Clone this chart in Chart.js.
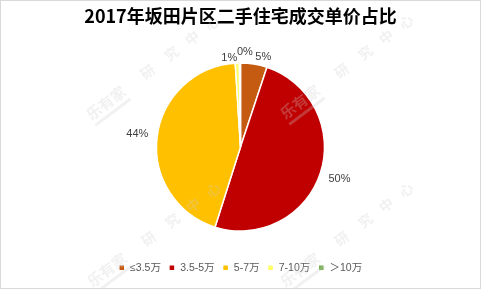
<!DOCTYPE html>
<html>
<head>
<meta charset="utf-8">
<script src="https://cdn.jsdelivr.net/npm/chart.js@4"></script>
<style>
  html, body { margin: 0; padding: 0; background: #fff; }
  #wrap { width: 481px; height: 289px; position: relative; box-sizing: border-box; border: 1px solid #d9d9d9; }
</style>
</head>
<body>
<div id="wrap"><canvas id="pie"></canvas></div>
<script>
// 单价区间占比
const categories = ['≤3.5万', '3.5-5万', '5-7万', '7-10万', '＞10万'];
const shares = [5.1, 49.8, 44.1, 0.8, 0.2];
const shareLabels = ['5%', '50%', '44%', '1%', '0%'];
const colors = ['#C55A11', '#C00000', '#FFC000', '#FFFF66', '#70AD47'];

// 标签位置微调（角度偏移，离边距离）
const labelTweak = [[5, 9], [0, 20], [0, 20], [-5, 6], [3, 11]];

const pctLabels = {
  id: 'pctLabels',
  afterDatasetsDraw(chart) {
    const ctx = chart.ctx;
    const meta = chart.getDatasetMeta(0);
    ctx.save();
    ctx.font = '11px "Liberation Sans", Arial, sans-serif';
    ctx.fillStyle = '#404040';
    ctx.textAlign = 'center';
    ctx.textBaseline = 'middle';
    meta.data.forEach((arc, i) => {
      const p = arc.getProps(['x', 'y', 'startAngle', 'endAngle', 'outerRadius'], true);
      const tw = labelTweak[i];
      const a = (p.startAngle + p.endAngle) / 2 + tw[0] * Math.PI / 180;
      const r = p.outerRadius + tw[1];
      ctx.fillText(shareLabels[i], p.x + Math.cos(a) * r, p.y + Math.sin(a) * r);
    });
    ctx.restore();
  }
};

// 水印
const watermark = {
  id: 'watermark',
  afterDraw(chart) {
    const ctx = chart.ctx;
    const spots = [[105, 102], [299, 101], [106, 269], [299, 269]];
    const chars = [['研', 52], ['究', 82], ['中', 108], ['心', 133]];
    ctx.save();
    ctx.fillStyle = 'rgba(205,205,205,0.28)';
    ctx.textAlign = 'center';
    ctx.textBaseline = 'middle';
    spots.forEach(([x, y]) => {
      ctx.save();
      ctx.translate(x, y);
      ctx.rotate(-37 * Math.PI / 180);
      ctx.font = 'bold 15px "Noto Sans CJK SC", sans-serif';
      ctx.fillText('乐有家', 0, 0);
      ctx.fillRect(-22, 10, 44, 3);
      ctx.font = 'bold 14px "Noto Sans CJK SC", sans-serif';
      chars.forEach(([c, d]) => ctx.fillText(c, d, 0));
      ctx.restore();
    });
    ctx.restore();
  }
};

const ctx = document.getElementById('pie').getContext('2d');
const pieChart = new Chart(ctx, {
  type: 'pie',
  data: {
    labels: categories,
    datasets: [{
      data: shares,
      backgroundColor: colors,
      borderColor: '#ffffff',
      borderWidth: 1.5,
      radius: 84
    }]
  },
  options: {
    responsive: true,
    maintainAspectRatio: false,
    animation: false,
    layout: { padding: { top: 0, bottom: 5, left: 0, right: 0 } },
    plugins: {
      title: {
        display: true,
        text: '2017年坂田片区二手住宅成交单价占比',
        color: '#000',
        font: { size: 18, weight: 'bold', family: '"Noto Sans CJK SC", sans-serif' },
        padding: { top: 4, bottom: 13 }
      },
      legend: {
        position: 'bottom',
        labels: {
          boxWidth: 6,
          boxHeight: 6,
          padding: 8,
          color: '#595959',
          font: { size: 10.5, family: '"Liberation Sans", "Noto Sans CJK SC", sans-serif' }
        }
      },
      tooltip: { enabled: false }
    }
  },
  plugins: [pctLabels, watermark]
});
</script>
</body>
</html>
